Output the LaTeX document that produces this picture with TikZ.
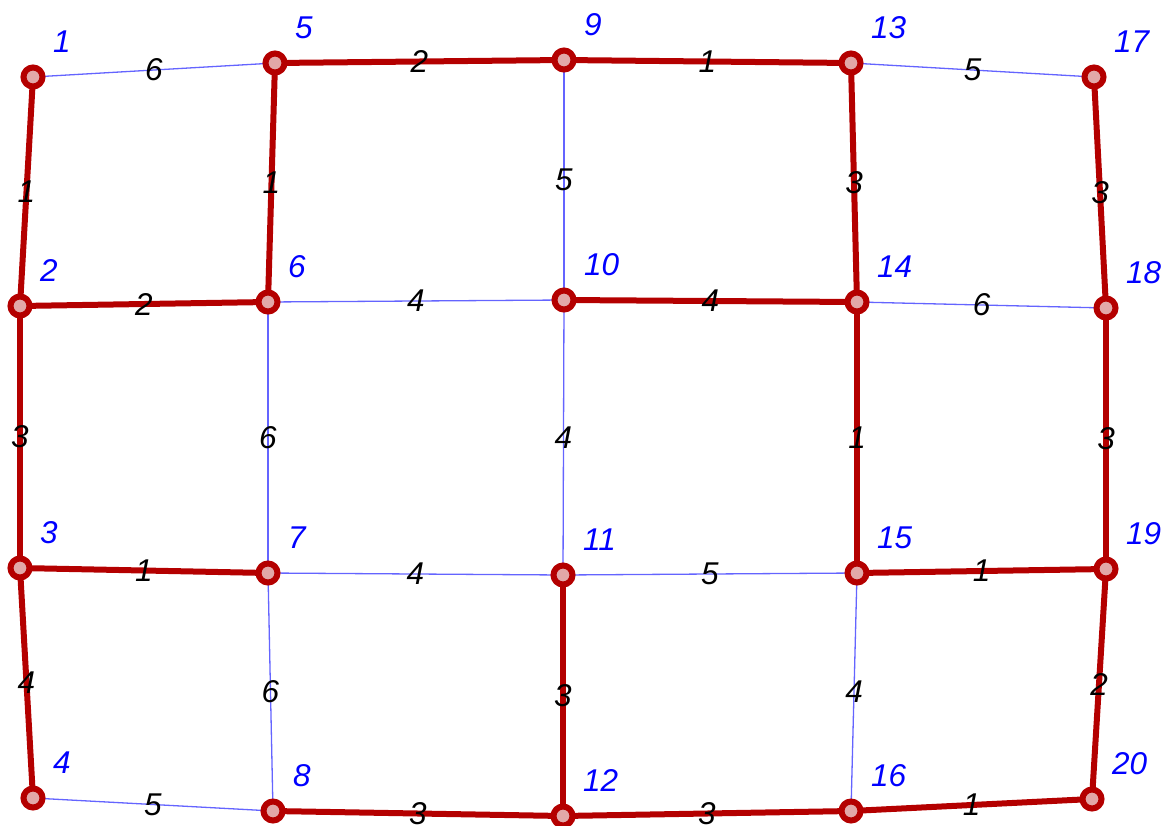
\documentclass[tikz,border=0pt]{standalone}
\usepackage{fontspec}
\setmainfont{Liberation Sans}
\usetikzlibrary{backgrounds,calc}
\definecolor{tred}{RGB}{180,0,0}
\definecolor{tpink}{RGB}{226,168,168}
\definecolor{tblue}{RGB}{100,100,255}
\definecolor{lblue}{RGB}{0,0,255}
\tikzset{
  vtx/.style={circle, draw=tred, fill=tpink, line width=6pt, minimum size=19pt, inner sep=0pt},
  treeedge/.style={draw=tred, line width=6pt},
  thinedge/.style={draw=tblue, line width=1.3pt},
  wlab/.style={font=\fontsize{31.5}{31.5}\selectfont\itshape, text=black, inner sep=0pt},
  nlab/.style={font=\fontsize{31.5}{31.5}\selectfont\itshape, text=lblue, anchor=south west, inner sep=0pt}
}
\begin{document}
\begin{tikzpicture}[x=1pt,y=-1pt]
\useasboundingbox (0,0) rectangle (1162,825);
% vertices
\foreach \n/\x/\y in {1/33/77, 2/20/306, 3/20/568, 4/33/798,
                      5/275/63, 6/268/302, 7/268/573, 8/273/811,
                      9/564/60, 10/564/300, 11/563/575, 12/563/816,
                      13/851/63, 14/857/302, 15/857/573, 16/851/811,
                      17/1094/77, 18/1106/308, 19/1106/569, 20/1092/799}{
  \node[vtx] (n\n) at (\x,\y) {};
  \node[nlab] (l\n) at (\x+20,\y-24) {\n};
}
\begin{scope}[on background layer]
% thin edges
\foreach \a/\b/\w in {1/5/6, 9/10/5, 13/17/5, 6/10/4, 6/7/6, 10/11/4, 14/18/6,
                      7/11/4, 7/8/6, 11/15/5, 15/16/4, 4/8/5}{
  \path[thinedge] (n\a.center) -- (n\b.center);
}
% tree edges
\foreach \a/\b/\w in {1/2/1, 5/6/1, 5/9/2, 9/13/1, 13/14/3, 17/18/3, 2/6/2, 2/3/3,
                      10/14/4, 14/15/1, 18/19/3, 3/7/1, 3/4/4, 11/12/3, 15/19/1,
                      19/20/2, 8/12/3, 12/16/3, 16/20/1}{
  \path[treeedge] (n\a.center) -- (n\b.center);
}
\end{scope}
% weights
\foreach \a/\b/\w in {1/5/6, 9/10/5, 13/17/5, 6/10/4, 6/7/6, 10/11/4, 14/18/6,
                      7/11/4, 7/8/6, 11/15/5, 15/16/4, 4/8/5,
                      1/2/1, 5/6/1, 5/9/2, 9/13/1, 13/14/3, 17/18/3, 2/6/2, 2/3/3,
                      10/14/4, 14/15/1, 18/19/3, 3/7/1, 3/4/4, 11/12/3, 15/19/1,
                      19/20/2, 8/12/3, 12/16/3, 16/20/1}{
  \node[wlab] (w\a-\b) at ($(n\a.center)!0.5!(n\b.center)$) {\w};
}
\end{tikzpicture}
\end{document}
